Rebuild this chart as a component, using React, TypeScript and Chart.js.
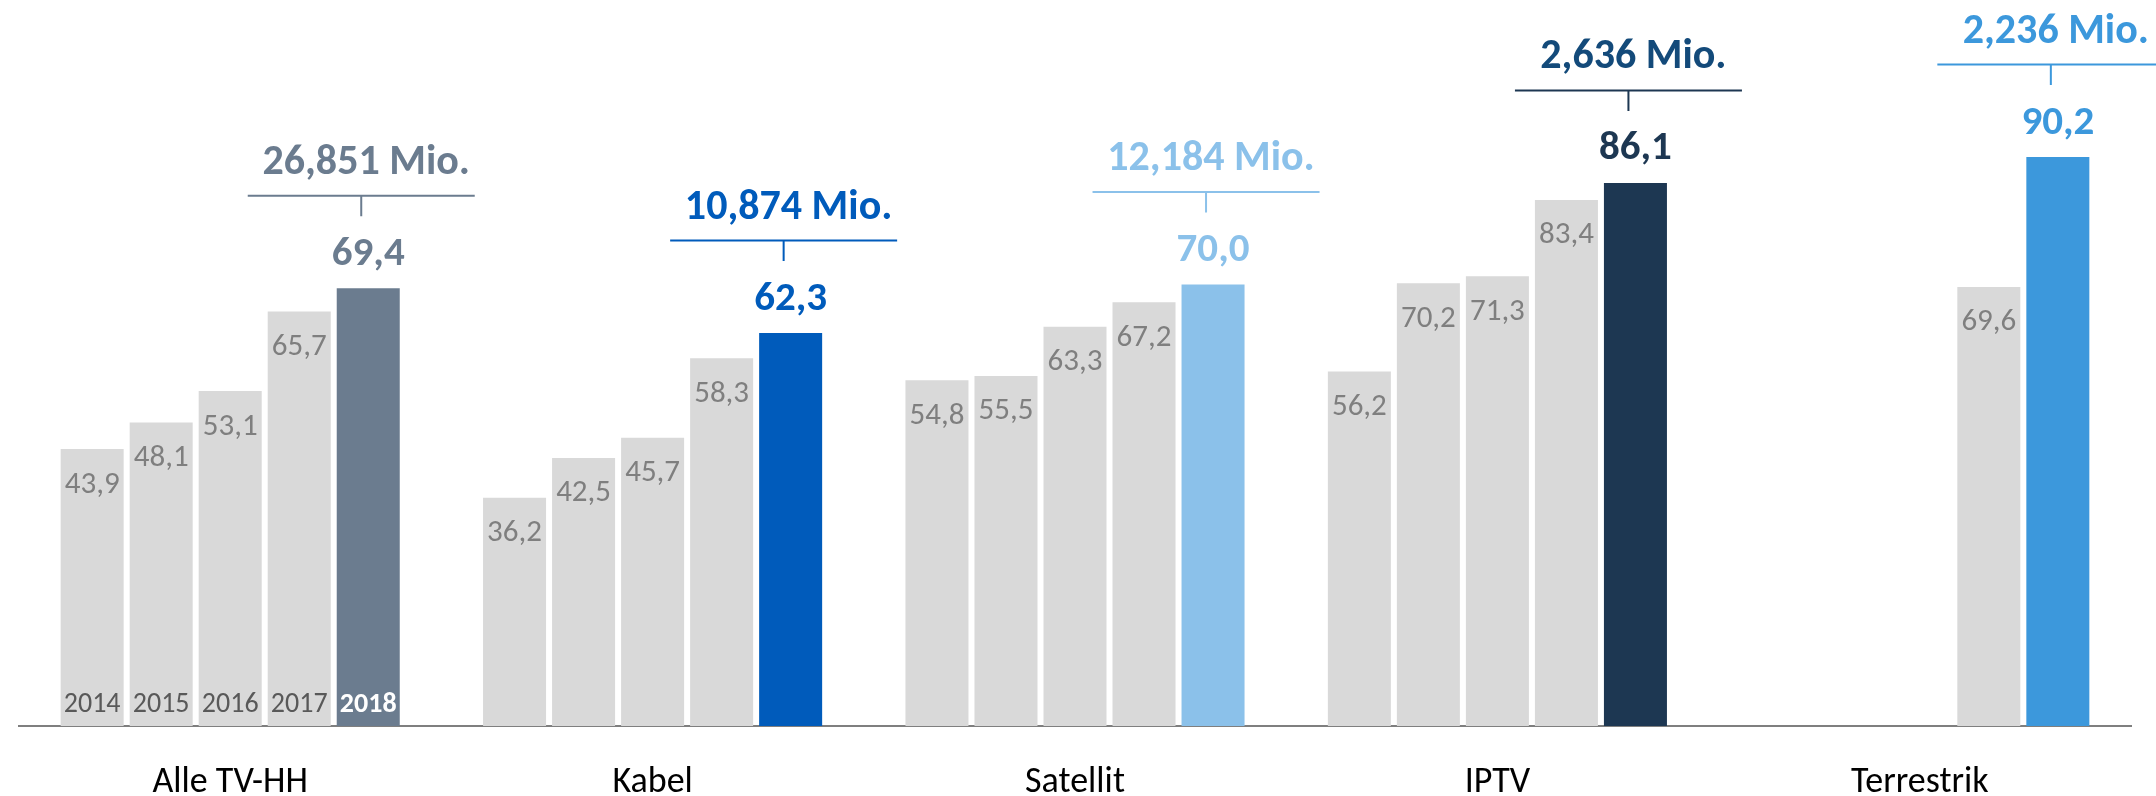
import React, { useEffect, useRef } from "react";
import { Chart, registerables } from "chart.js";

Chart.register(...registerables);

// ---- data ----
const categories = ["Alle TV-HH", "Kabel", "Satellit", "IPTV", "Terrestrik"];
const years = ["2014", "2015", "2016", "2017", "2018"];
const values2014 = [43.9, 36.2, 54.8, 56.2, null];
const values2015 = [48.1, 42.5, 55.5, 70.2, null];
const values2016 = [53.1, 45.7, 63.3, 71.3, null];
const values2017 = [65.7, 58.3, 67.2, 83.4, 69.6];
const values2018 = [69.4, 62.3, 70.0, 86.1, 90.2];
const households = ["26,851 Mio.", "10,874 Mio.", "12,184 Mio.", "2,636 Mio.", "2,236 Mio."];

// ---- styles ----
const FONT = "Carlito, Lato, 'Open Sans', sans-serif";
const GREY_BAR = "#d9d9d9";
const GREY_TEXT = "#7f7f7f";
const YEAR_TEXT = "#595959";
const highlightColors = ["#6b7c8f", "#005bbb", "#8bc1ea", "#1d3752", "#3c98dc"];
const mioTextColors = ["#6b7c8f", "#005bbb", "#8bc1ea", "#134a7a", "#3c98dc"];

const fmt = (v: number) => v.toFixed(1).replace(".", ",");

const labelPlugin = {
  id: "barLabels",
  afterDatasetsDraw(chart: any) {
    const ctx: CanvasRenderingContext2D = chart.ctx;
    ctx.save();
    ctx.textAlign = "center";
    ctx.textBaseline = "alphabetic";
    const lastIdx = chart.data.datasets.length - 1;
    chart.data.datasets.forEach((ds: any, di: number) => {
      const meta = chart.getDatasetMeta(di);
      meta.data.forEach((bar: any, ci: number) => {
        const v = ds.data[ci];
        if (v == null) return;
        const { x, y, base } = bar.getProps(["x", "y", "base"], true);
        if (di < lastIdx) {
          ctx.fillStyle = GREY_TEXT;
          ctx.font = `31px ${FONT}`;
          ctx.fillText(fmt(v), x, y + 43.5);
        } else {
          const col = highlightColors[ci];
          ctx.fillStyle = col;
          ctx.font = `bold 41px ${FONT}`;
          ctx.fillText(fmt(v), x, y - 23.5);
          // bracket
          const bx = x - 7;
          const ly = y - 92.5;
          ctx.strokeStyle = col;
          ctx.lineWidth = 2;
          ctx.beginPath();
          ctx.moveTo(bx - 113.5, ly);
          ctx.lineTo(bx + 113.5, ly);
          ctx.moveTo(bx, ly);
          ctx.lineTo(bx, y - 72);
          ctx.stroke();
          ctx.fillStyle = mioTextColors[ci];
          ctx.font = `bold 42px ${FONT}`;
          ctx.fillText(households[ci], x - 2, y - 114.5);
        }
        if (ci === 0) {
          if (di < lastIdx) {
            ctx.fillStyle = YEAR_TEXT;
            ctx.font = `28px ${FONT}`;
          } else {
            ctx.fillStyle = "#ffffff";
            ctx.font = `bold 28px ${FONT}`;
          }
          ctx.fillText(years[di], x, base - 14);
        }
      });
    });
    const xs = chart.scales.x;
    ctx.fillStyle = "#000000";
    ctx.font = `36px ${FONT}`;
    categories.forEach((c, i) => {
      ctx.fillText(c, xs.getPixelForValue(i), 792);
    });
    ctx.restore();
  },
};

export default function App() {
  const ref = useRef<HTMLCanvasElement | null>(null);
  useEffect(() => {
    document.body.style.margin = "0";
    if (!ref.current) return;
    const series = [values2014, values2015, values2016, values2017, values2018];
    const chart = new Chart(ref.current, {
      type: "bar",
      data: {
        labels: categories,
        datasets: series.map((d, i) => ({
          label: years[i],
          data: d,
          backgroundColor: i === series.length - 1 ? highlightColors : GREY_BAR,
          borderWidth: 0,
          categoryPercentage: 0.817,
          barPercentage: 0.913,
        })),
      },
      options: {
        animation: false,
        responsive: false,
        devicePixelRatio: 1,
        layout: { padding: { left: 19, right: 25, top: 0, bottom: 70 } },
        plugins: {
          legend: { display: false },
          tooltip: { enabled: false },
        },
        scales: {
          x: {
            offset: true,
            grid: { display: false, drawTicks: false },
            ticks: { display: false },
            border: { display: true, color: "#7f7f7f", width: 2 },
          },
          y: {
            display: false,
            min: 0,
            max: 115.1,
          },
        },
      },
      plugins: [labelPlugin],
    });
    return () => chart.destroy();
  }, []);
  return (
    <div style={{ width: 2156, height: 796 }}>
      <canvas ref={ref} width={2156} height={796} style={{ display: "block" }} />
    </div>
  );
}
